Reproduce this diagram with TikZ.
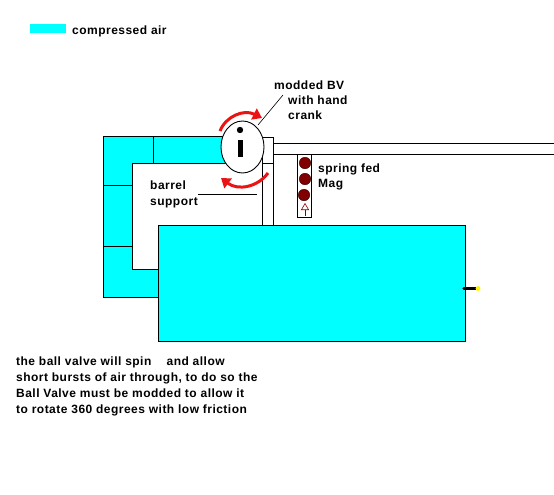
\documentclass[tikz,border=0pt]{standalone}
\usepackage{fontspec}
\setmainfont[LetterSpace=4]{Liberation Sans}
\usetikzlibrary{arrows.meta,shapes.geometric}
\definecolor{air}{RGB}{0,255,255}
\definecolor{ball}{RGB}{128,0,0}
\definecolor{crank}{RGB}{235,20,20}
\tikzset{
  airpart/.style={draw=black,fill=air,line width=0.9pt},
  plain/.style={draw=black,line width=0.9pt},
  lab/.style={font=\bfseries\fontsize{12}{15.8}\selectfont,align=left,anchor=west,inner sep=0pt,text=black},
  ballst/.style={circle,fill=ball,draw=black!60!ball,inner sep=0pt,minimum size=11.5pt,line width=0.4pt},
  rot/.style={draw=crank,line width=3pt,-{Triangle[length=9pt,width=12pt]}}
}
\begin{document}
\begin{tikzpicture}[x=1pt,y=-1pt]
\useasboundingbox[fill=white] (0,0) rectangle (554,495);
% legend
\fill[air] (30,24) rectangle (66,33);
\node[lab] (legend) at (72,31.5) {compressed air};
% supply pipe
\path[airpart] (103,136) -- (228,136) -- (228,163) -- (132,163) -- (132,269) -- (158,269) -- (158,297) -- (103,297) -- cycle;
\draw[plain] (153,136) -- (153,163);
\draw[plain] (103,185) -- (132,185);
\draw[plain] (103,246) -- (132,246);
% tank
\node[airpart,minimum width=307pt,minimum height=116pt,inner sep=0pt,anchor=north west] (tank) at (158,225) {};
% barrel
\draw[plain] (273,143) -- (554,143);
\draw[plain] (273,154) -- (554,154);
% support
\node[plain,fill=white,minimum width=11pt,minimum height=62pt,inner sep=0pt,anchor=north west] (support) at (262,163) {};
\node[plain,fill=white,minimum width=11pt,minimum height=26pt,inner sep=0pt,anchor=north west] (seat) at (262,137) {};
% valve
\node[plain,fill=white,ellipse,minimum width=43pt,minimum height=52pt,inner sep=0pt] (valve) at (242.5,147) {};
\fill[black] (240,130) circle (3.2);
\fill[black] (238,140) rectangle (243,157);
% magazine
\node[plain,fill=white,minimum width=14pt,minimum height=63pt,inner sep=0pt,anchor=north west] (mag) at (297,154) {};
\node[ballst] (b1) at (305,163) {};
\node[ballst] (b2) at (305,179) {};
\node[ballst] (b3) at (304,195) {};
\draw[ball,line width=0.6pt,-{Triangle[open,length=7pt,width=8pt]}] (305,216) -- (305,203);
% crank arrows
\draw[rot] (220,131) .. controls (226,116) and (244,109) .. (262,118);
\draw[rot] (268,173) .. controls (258,187) and (238,191) .. (221,178);
% tip
\draw[black,line width=3.4pt,line cap=round] (464,288.5) -- (476,288.5);
\fill[yellow] (478,288.5) circle (2.4);
% labels
\node[lab] (bv) at (274,85.5) {modded BV};
\node[lab] (hc) at (288,100) {with hand};
\node[lab] (cr) at (288,115.5) {crank};
\node[lab] (sf) at (318,177) {spring fed\\Mag};
\node[lab] (bs) at (150,194.5) {barrel\\support};
\coordinate (bvend) at (258,125);
\coordinate (bvstart) at (283,95);
\coordinate (bsstart) at (198,194.5);
\coordinate (bsend) at (257,194.5);
\draw[black,line width=0.6pt] (bvstart) -- (bvend);
\draw[black,line width=0.9pt] (bsstart) -- (bsend);
\node[lab] (note) at (16,386.5) {the ball valve will spin\ \ \ \ and allow\\short bursts of air through, to do so the\\Ball Valve must be modded to allow it\\to rotate 360 degrees with low friction};
\end{tikzpicture}
\end{document}
